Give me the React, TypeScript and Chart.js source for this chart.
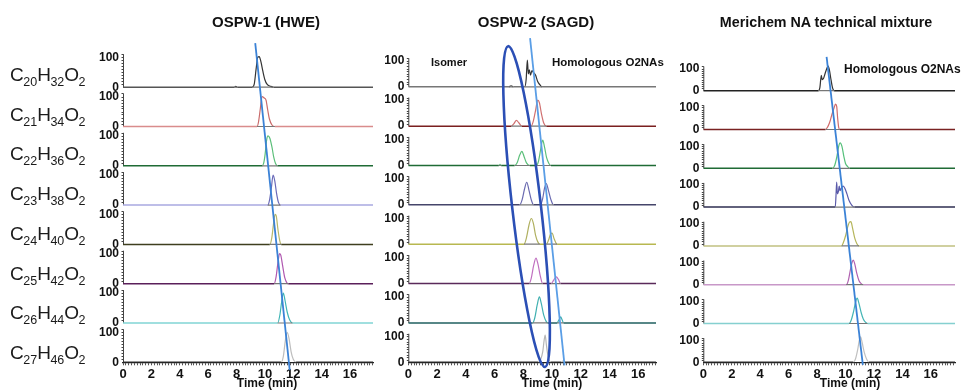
import React, { useEffect, useRef } from "react";
import { Chart, registerables } from "chart.js";

Chart.register(...registerables);

const FONT = '"Liberation Sans", Arial, Helvetica, sans-serif';

// ---------- text ----------
const PANEL_TITLES = ["OSPW-1 (HWE)", "OSPW-2 (SAGD)", "Merichem NA technical mixture"];
const FORMULA_C = ["20", "21", "22", "23", "24", "25", "26", "27"];
const FORMULA_H = ["32", "34", "36", "38", "40", "42", "44", "46"];
const X_TICK_LABELS = [0, 2, 4, 6, 8, 10, 12, 14, 16];
const Y_TICK_LABELS = ["0", "100"];
const X_TITLE = "Time (min)";

// ---------- data: [time (min), relative abundance (%)] ----------
// Panel 1: OSPW-1 (HWE)
const P1_C20: [number, number][] = [[0, 0], [7.85, 0], [7.95, 3], [8.05, 0], [9.1, 0], [9.25, 10], [9.38, 60], [9.5, 100], [9.6, 102], [9.72, 85], [9.85, 55], [10.0, 25], [10.15, 10], [10.4, 3], [10.6, 0], [17.62, 0]];
const P1_C21: [number, number][] = [[0, 0], [9.45, 0], [9.55, 15], [9.68, 60], [9.8, 100], [9.95, 95], [10.08, 88], [10.2, 55], [10.32, 25], [10.5, 5], [10.7, 0], [17.62, 0]];
const P1_C22: [number, number][] = [[0, 0], [9.8, 0], [9.92, 10], [10.02, 40], [10.12, 85], [10.22, 100], [10.35, 92], [10.5, 62], [10.62, 30], [10.75, 8], [10.9, 0], [17.62, 0]];
const P1_C23: [number, number][] = [[0, 0], [10.2, 0], [10.32, 15], [10.45, 55], [10.58, 100], [10.7, 80], [10.82, 40], [10.95, 10], [11.1, 0], [17.62, 0]];
const P1_C24: [number, number][] = [[0, 0], [10.35, 0], [10.48, 20], [10.6, 65], [10.72, 100], [10.8, 95], [10.92, 50], [11.05, 12], [11.15, 0], [17.62, 0]];
const P1_C25: [number, number][] = [[0, 0], [10.65, 0], [10.78, 20], [10.92, 70], [11.03, 100], [11.12, 95], [11.25, 60], [11.4, 20], [11.55, 3], [11.65, 0], [17.62, 0]];
const P1_C26: [number, number][] = [[0, 0], [10.9, 0], [11.05, 25], [11.18, 70], [11.3, 100], [11.42, 75], [11.58, 35], [11.75, 10], [11.95, 0], [17.62, 0]];
const P1_C27: [number, number][] = [[0, 0], [11.15, 0], [11.3, 20], [11.45, 75], [11.57, 100], [11.7, 80], [11.85, 35], [12.0, 10], [12.2, 0], [17.62, 0]];

// Panel 2: OSPW-2 (SAGD)
const P2_C20: [number, number][] = [[0, 0], [7.0, 0], [7.15, 4], [7.3, 0], [8.1, 0], [8.2, 30], [8.28, 103], [8.35, 50], [8.42, 65], [8.5, 45], [8.6, 62], [8.7, 55], [8.85, 45], [9.0, 20], [9.15, 8], [9.3, 0], [17.23, 0]];
const P2_C21: [number, number][] = [[0, 0], [7.15, 0], [7.35, 10], [7.52, 22], [7.7, 12], [7.9, 0], [8.55, 0], [8.7, 20], [8.85, 60], [9.0, 100], [9.12, 90], [9.27, 45], [9.42, 12], [9.6, 0], [17.23, 0]];
const P2_C22: [number, number][] = [[0, 0], [6.3, 0], [6.38, 4], [6.46, 0], [7.4, 0], [7.58, 12], [7.75, 40], [7.9, 54], [8.05, 35], [8.22, 10], [8.45, 0], [8.9, 0], [9.05, 15], [9.2, 60], [9.35, 98], [9.48, 70], [9.62, 30], [9.78, 8], [9.92, 0], [17.23, 0]];
const P2_C23: [number, number][] = [[0, 0], [7.75, 0], [7.92, 20], [8.08, 60], [8.24, 87], [8.4, 55], [8.55, 20], [8.72, 0], [9.2, 0], [9.35, 25], [9.48, 65], [9.6, 82], [9.75, 55], [9.92, 20], [10.1, 0], [17.23, 0]];
const P2_C24: [number, number][] = [[0, 0], [8.05, 0], [8.22, 25], [8.4, 75], [8.56, 99], [8.7, 80], [8.85, 35], [9.0, 10], [9.15, 0], [9.6, 0], [9.75, 15], [9.9, 40], [10.0, 43], [10.15, 20], [10.35, 0], [17.23, 0]];
const P2_C25: [number, number][] = [[0, 0], [8.4, 0], [8.55, 20], [8.72, 70], [8.88, 98], [9.02, 75], [9.18, 30], [9.35, 0], [9.95, 0], [10.1, 12], [10.3, 26], [10.45, 15], [10.6, 0], [17.23, 0]];
const P2_C26: [number, number][] = [[0, 0], [8.65, 0], [8.8, 20], [8.97, 70], [9.12, 100], [9.25, 75], [9.42, 30], [9.6, 5], [9.7, 0], [10.35, 0], [10.48, 12], [10.6, 23], [10.7, 12], [10.8, 0], [17.23, 0]];
const P2_C27: [number, number][] = [[0, 0], [9.05, 0], [9.2, 10], [9.35, 40], [9.45, 85], [9.52, 105], [9.6, 70], [9.7, 30], [9.8, 8], [9.9, 0], [10.65, 0], [10.78, 6], [10.9, 0], [17.23, 0]];

// Panel 3: Merichem NA technical mixture
const P3_C20: [number, number][] = [[0, 0], [8.1, 0], [8.2, 15], [8.3, 70], [8.36, 50], [8.45, 55], [8.55, 75], [8.68, 100], [8.78, 112], [8.88, 90], [8.98, 50], [9.08, 15], [9.2, 0], [17.7, 0]];
const P3_C21: [number, number][] = [[0, 0], [8.6, 0], [8.75, 12], [8.9, 35], [9.05, 70], [9.18, 95], [9.3, 115], [9.38, 105], [9.45, 50], [9.52, 10], [9.6, 0], [17.7, 0]];
const P3_C22: [number, number][] = [[0, 0], [9.1, 0], [9.25, 15], [9.4, 55], [9.52, 100], [9.62, 116], [9.75, 100], [9.88, 55], [10.0, 22], [10.15, 8], [10.3, 0], [17.7, 0]];
const P3_C23: [number, number][] = [[0, 0], [9.28, 0], [9.33, 50], [9.38, 114], [9.43, 60], [9.5, 70], [9.56, 95], [9.62, 75], [9.72, 88], [9.84, 95], [9.96, 85], [10.1, 60], [10.25, 30], [10.45, 8], [10.62, 0], [17.7, 0]];
const P3_C24: [number, number][] = [[0, 0], [9.72, 0], [9.85, 15], [10.0, 45], [10.15, 85], [10.28, 108], [10.38, 110], [10.5, 80], [10.65, 35], [10.8, 10], [10.95, 0], [17.7, 0]];
const P3_C25: [number, number][] = [[0, 0], [10.05, 0], [10.2, 20], [10.35, 70], [10.48, 105], [10.55, 112], [10.65, 95], [10.8, 50], [10.95, 18], [11.1, 5], [11.25, 0], [17.7, 0]];
const P3_C26: [number, number][] = [[0, 0], [10.25, 0], [10.4, 15], [10.55, 50], [10.7, 95], [10.82, 115], [10.95, 90], [11.1, 50], [11.25, 20], [11.4, 6], [11.55, 0], [17.7, 0]];
const P3_C27: [number, number][] = [[0, 0], [10.55, 0], [10.7, 15], [10.85, 55], [10.97, 100], [11.06, 116], [11.17, 90], [11.32, 45], [11.48, 15], [11.65, 0], [17.7, 0]];

// Trend lines through homologous peak apexes: [time, stacked y]
const TREND_1: [number, number][] = [[9.32, 1064], [11.75, -26]];
const TREND_2: [number, number][] = [[8.47, 1247], [10.87, -12]];
const TREND_3: [number, number][] = [[8.67, 1389], [11.22, -12]];
// Isomer loop in panel 2: ends of its long axis [time, stacked y], half width in minutes
const ISOMER_LOOP_ENDS: [number, number][] = [[6.94, 1216], [9.51, -18]];
const ISOMER_LOOP_HALF_WIDTH = 1.0;

// ---------- styles ----------
const PEAK_COLORS = [
  ["#333333", "#c96a6a", "#5cbf7a", "#6a6ab8", "#b8b86a", "#b058b0", "#3fb5b5", "#bdbdbd"],
  ["#333333", "#d07070", "#5cbf7a", "#6a6ab0", "#b0b060", "#c070c0", "#40b0b0", "#b5b5b5"],
  ["#333333", "#d06a6a", "#55c07a", "#5a5aaa", "#b5b55a", "#b060b0", "#45b5b5", "#c0c0c0"],
];
const BASE_COLORS = [
  ["#555555", "#d98c8c", "#1f6b35", "#a8a8e0", "#3f3f1f", "#5a1f5a", "#80d4d4", "#333333"],
  ["#777777", "#7a1f1f", "#1f6b35", "#45456a", "#b8b850", "#5a2a5a", "#1f5f5f", "#333333"],
  ["#222222", "#7a2222", "#1f6b35", "#2e2e50", "#c0c080", "#c898c8", "#85d0d0", "#333333"],
];

const PANEL_DATA = [
  [P1_C20, P1_C21, P1_C22, P1_C23, P1_C24, P1_C25, P1_C26, P1_C27],
  [P2_C20, P2_C21, P2_C22, P2_C23, P2_C24, P2_C25, P2_C26, P2_C27],
  [P3_C20, P3_C21, P3_C22, P3_C23, P3_C24, P3_C25, P3_C26, P3_C27],
];
const TRENDS = [TREND_1, TREND_2, TREND_3];
const TREND_COLORS = ["#3b82d6", "#5a9ee6", "#3b82d6"];

// layout per panel
const LAYOUT = [
  { left: 60, width: 320, yAxisW: 63, padRight: 7, xMax: 17.62, rowStep: 131, yMax: 1091 },
  { left: 340, width: 330, yAxisW: 68.3, padRight: 14, xMax: 17.23, rowStep: 151.4, yMax: 1259 },
  { left: 640, width: 326, yAxisW: 63.3, padRight: 11, xMax: 17.7, rowStep: 176.4, yMax: 1488 },
];
const TOP = 35;
const X_AXIS_H = 28.7;
const H = 391;

const rowAxesPlugin = {
  id: "rowAxes",
  beforeDatasetsDraw(chart: any, _a: any, opts: any) {
    const ys = chart.scales.y;
    const x = chart.chartArea.left;
    const ctx = chart.ctx;
    ctx.save();
    ctx.strokeStyle = "#444";
    ctx.lineWidth = 1;
    for (let r = 0; r < 8; r++) {
      const base = (7 - r) * opts.step;
      const y0 = ys.getPixelForValue(base);
      const y1 = ys.getPixelForValue(base + 110);
      ctx.beginPath();
      ctx.moveTo(x + 0.5, y0);
      ctx.lineTo(x + 0.5, y1);
      for (let v = 10; v <= 110; v += 10) {
        const yy = Math.round(ys.getPixelForValue(base + v)) + 0.5;
        ctx.moveTo(x - 1.5, yy);
        ctx.lineTo(x + 0.5, yy);
      }
      ctx.stroke();
    }
    ctx.restore();
  },
};

const loopPlugin = {
  id: "isomerLoop",
  afterDatasetsDraw(chart: any, _a: any, opts: any) {
    if (!opts || !opts.ends) return;
    const xs = chart.scales.x;
    const ys = chart.scales.y;
    const [a, b] = opts.ends;
    const x1 = xs.getPixelForValue(a[0]);
    const y1 = ys.getPixelForValue(a[1]);
    const x2 = xs.getPixelForValue(b[0]);
    const y2 = ys.getPixelForValue(b[1]);
    const cx = (x1 + x2) / 2;
    const cy = (y1 + y2) / 2;
    const semiMajor = Math.hypot(x2 - x1, y2 - y1) / 2;
    const semiMinor = xs.getPixelForValue(opts.halfWidth) - xs.getPixelForValue(0);
    const ang = Math.atan2(y2 - y1, x2 - x1);
    const ctx = chart.ctx;
    ctx.save();
    ctx.strokeStyle = "#2b4fb5";
    ctx.lineWidth = 2.6;
    ctx.beginPath();
    ctx.ellipse(cx, cy, semiMajor, semiMinor, ang, 0, Math.PI * 2);
    ctx.stroke();
    ctx.restore();
  },
};

// integration baselines under each peak run (derived from the series)
function integrationSegments(pts: [number, number][], base: number) {
  const out: any[] = [];
  let i = 1;
  while (i < pts.length) {
    if (pts[i][1] !== 0) {
      const start = pts[i - 1][0];
      let j = i;
      while (j < pts.length && pts[j][1] !== 0) j++;
      const end = pts[Math.min(j, pts.length - 1)][0];
      out.push({ x: start, y: base }, { x: end, y: base }, { x: end, y: null });
      i = j + 1;
    } else i++;
  }
  return out;
}

function Panel({ idx }: { idx: number }) {
  const ref = useRef<HTMLCanvasElement | null>(null);
  useEffect(() => {
    const L = LAYOUT[idx];
    const datasets: any[] = [];
    PANEL_DATA[idx].forEach((pts, r) => {
      const base = (7 - r) * L.rowStep;
      const peak = PEAK_COLORS[idx][r];
      const bcol = BASE_COLORS[idx][r];
      const flat = (c: any) => c.p0.parsed.y === base && c.p1.parsed.y === base;
      datasets.push({
        data: pts.map(([x, y]) => ({ x, y: base + y })),
        borderColor: peak,
        borderWidth: 1.2,
        pointRadius: 0,
        order: 1,
        cubicInterpolationMode: "monotone",
        segment: {
          borderColor: (c: any) => (flat(c) ? bcol : peak),
          borderWidth: (c: any) => (flat(c) ? 1.5 : 1.2),
        },
      });
      if (r < 7) {
        datasets.push({
          data: integrationSegments(pts, base),
          borderColor: "#777777",
          borderWidth: 1.2,
          pointRadius: 0,
          spanGaps: false,
          order: 0,
        });
      }
    });
    datasets.push({
      data: TRENDS[idx].map(([x, y]) => ({ x, y })),
      borderColor: TREND_COLORS[idx],
      borderWidth: 1.8,
      pointRadius: 0,
      clip: false,
      order: -1,
    });
    const xTicks: { value: number }[] = [];
    for (let i = 0; i * 0.2 <= L.xMax + 1e-9; i++) xTicks.push({ value: Math.round(i * 2) / 10 });
    const yTicks: { value: number }[] = [];
    for (let r = 7; r >= 0; r--) {
      const base = (7 - r) * L.rowStep;
      yTicks.push({ value: base }, { value: base + 100 });
    }
    const chart = new Chart(ref.current as HTMLCanvasElement, {
      type: "line",
      data: { datasets },
      plugins: idx === 1 ? [rowAxesPlugin, loopPlugin] : [rowAxesPlugin],
      options: {
        responsive: false,
        animation: false,
        events: [],
        layout: { padding: { left: 0, right: L.padRight, top: TOP, bottom: 0 } },
        plugins: {
          legend: { display: false },
          tooltip: { enabled: false },
          rowAxes: { step: L.rowStep },
          isomerLoop: idx === 1 ? { ends: ISOMER_LOOP_ENDS, halfWidth: ISOMER_LOOP_HALF_WIDTH } : {},
        } as any,
        scales: {
          x: {
            type: "linear",
            min: 0,
            max: L.xMax,
            afterFit: (s: any) => {
              s.height = X_AXIS_H;
            },
            afterBuildTicks: (s: any) => {
              s.ticks = xTicks.map((t) => ({ ...t }));
            },
            ticks: {
              autoSkip: false,
              maxRotation: 0,
              padding: 1,
              color: "#111",
              font: { family: FONT, size: 13, weight: "bold" },
              callback: (v: any) => {
                const n = Number(v);
                const r = Math.round(n);
                return Math.abs(n - r) < 1e-6 && X_TICK_LABELS.includes(r) ? String(r) : "";
              },
            },
            grid: { drawOnChartArea: false, drawTicks: true, tickLength: 3, color: "#555", lineWidth: 1 },
            border: { display: true, color: "#222", width: 1.2 },
          },
          y: {
            type: "linear",
            min: 0,
            max: L.yMax,
            afterFit: (s: any) => {
              s.width = L.yAxisW;
            },
            afterBuildTicks: (s: any) => {
              s.ticks = yTicks.map((t) => ({ ...t }));
            },
            ticks: {
              autoSkip: false,
              padding: 4,
              color: "#111",
              font: { family: FONT, size: 12, weight: "bold" },
              callback: (_v: any, i: number) => Y_TICK_LABELS[i % 2],
            },
            grid: { display: false, drawTicks: false },
            border: { display: false },
          },
        },
      } as any,
    });
    return () => chart.destroy();
  }, [idx]);
  const L = LAYOUT[idx];
  return (
    <canvas
      ref={ref}
      width={L.width}
      height={H}
      style={{ position: "absolute", left: L.left, top: 0, width: L.width, height: H }}
    />
  );
}

const TITLE_X = [266, 536, 826];
const TITLE_SIZE = [15, 15, 14.3];
const XTITLE_X = [267, 552, 850];

function Formula({ i }: { i: number }) {
  const cy = 75 + i * 39.7;
  const sub: React.CSSProperties = { fontSize: 12.5, position: "relative", top: 5, marginLeft: -0.5 };
  return (
    <div
      style={{
        position: "absolute",
        left: 10,
        top: cy - 11,
        height: 22,
        lineHeight: "22px",
        fontSize: 19,
        color: "#1a1a1a",
        whiteSpace: "nowrap",
      }}
    >
      C<span style={sub}>{FORMULA_C[i]}</span>H<span style={sub}>{FORMULA_H[i]}</span>O<span style={sub}>2</span>
    </div>
  );
}

export default function App() {
  const text = (s: string, x: number, y: number, size: number, anchor: "center" | "left" = "center") => (
    <div
      key={s + x}
      style={{
        position: "absolute",
        left: x,
        top: y - 9,
        height: 18,
        lineHeight: "18px",
        fontSize: size,
        fontWeight: "bold",
        color: "#111",
        whiteSpace: "nowrap",
        transform: anchor === "center" ? "translateX(-50%)" : undefined,
      }}
    >
      {s}
    </div>
  );
  return (
    <div
      style={{
        position: "absolute",
        left: 0,
        top: 0,
        width: 966,
        height: 391,
        background: "#fff",
        fontFamily: FONT,
        overflow: "hidden",
      }}
    >
      {[0, 1, 2].map((i) => (
        <Panel key={i} idx={i} />
      ))}
      {PANEL_TITLES.map((t, i) => text(t, TITLE_X[i], 22, TITLE_SIZE[i]))}
      {XTITLE_X.map((x) => text(X_TITLE, x, 383, 12))}
      {text("Isomer", 449, 62, 11)}
      {text("Homologous O2NAs", 552, 62, 11.5, "left")}
      {text("Homologous O2NAs", 844, 69, 12, "left")}
      {FORMULA_C.map((_, i) => (
        <Formula key={i} i={i} />
      ))}
    </div>
  );
}
